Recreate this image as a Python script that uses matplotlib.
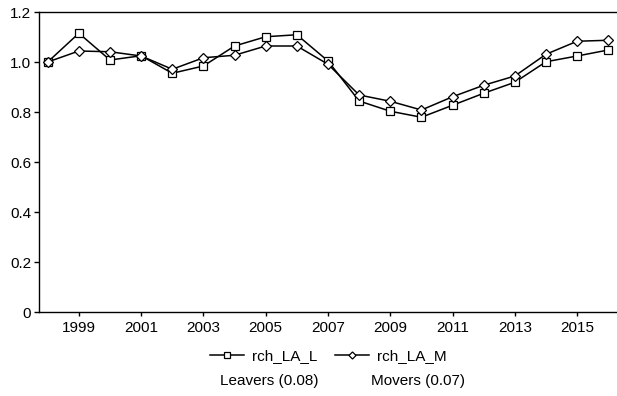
import matplotlib
matplotlib.use("Agg")
import matplotlib.pyplot as plt

years = list(range(1998, 2017))
leavers = [1.000, 1.115, 1.008, 1.025, 0.955, 0.984, 1.064, 1.101, 1.109, 1.004,
           0.844, 0.803, 0.779, 0.827, 0.875, 0.919, 1.001, 1.024, 1.048]
movers = [1.000, 1.044, 1.041, 1.024, 0.971, 1.017, 1.027, 1.064, 1.064, 0.991,
          0.868, 0.843, 0.808, 0.861, 0.907, 0.944, 1.031, 1.083, 1.087]
series_names = ["rch_LA_L", "rch_LA_M"]
series_notes = ["Leavers (0.08)", "Movers (0.07)"]
xticks = list(range(1999, 2017, 2))
yticks = [0, 0.2, 0.4, 0.6, 0.8, 1.0, 1.2]
ytick_labels = ["0", "0.2", "0.4", "0.6", "0.8", "1.0", "1.2"]

plt.rcParams['font.family'] = ['Liberation Sans', 'DejaVu Sans']

W, H = 617, 396
fig = plt.figure(figsize=(W / 100, H / 100), dpi=100)
ax = fig.add_axes([39 / W, 1 - 312 / H, (W - 39) / W, 300 / H])

ax.plot(years, leavers, color='black', lw=1.1, marker='s', ms=5.2,
        mfc='white', mec='black', mew=0.9, label=series_names[0])
ax.plot(years, movers, color='black', lw=1.1, marker='D', ms=4.8,
        mfc='white', mec='black', mew=0.9, label=series_names[1])

ax.set_xlim(1997.72, 2016.28)
ax.set_ylim(0, 1.2)
ax.set_xticks(xticks)
ax.set_xticklabels([str(x) for x in xticks], fontsize=11)
ax.set_yticks(yticks)
ax.set_yticklabels(ytick_labels, fontsize=11)
ax.tick_params(axis='x', direction='out', length=3, width=1, pad=3.5)
ax.tick_params(axis='y', direction='out', length=3.5, width=1, pad=2)
for s in ['left', 'bottom', 'top']:
    ax.spines[s].set_linewidth(1.0)
ax.spines['right'].set_visible(False)

leg = fig.legend(loc='center', bbox_to_anchor=(328.5 / W, 1 - 356 / H), ncol=2,
                 frameon=False, fontsize=11, handlelength=2.2, handletextpad=0.55,
                 columnspacing=1.15, markerscale=0.75, borderpad=0, borderaxespad=0)
fig.text(269.7 / W, 1 - 380.5 / H, series_notes[0], ha='center', va='center', fontsize=11)
fig.text(418.3 / W, 1 - 380.5 / H, series_notes[1], ha='center', va='center', fontsize=11)

fig.savefig("out.png", dpi=100)
